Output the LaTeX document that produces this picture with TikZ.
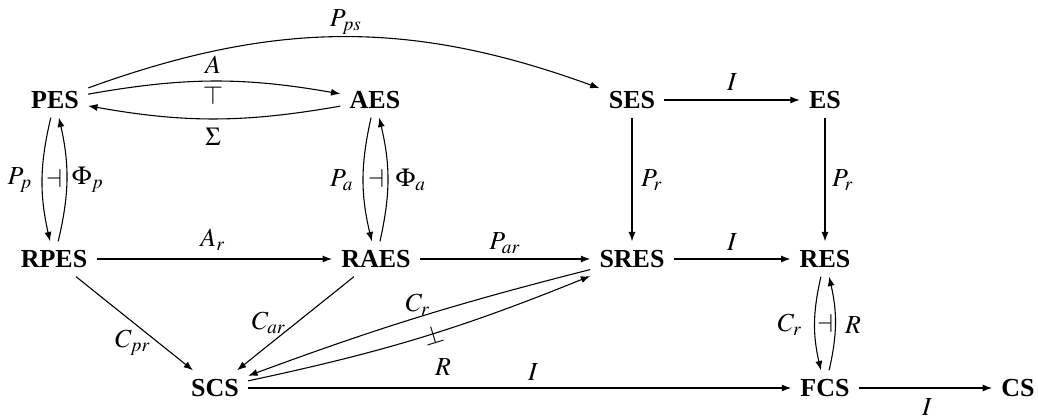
\documentclass[tikz,border=0pt]{standalone}
\usepackage{mathptmx}
\usepackage{fontspec}
\setmainfont{Liberation Serif}
\usetikzlibrary{arrows.meta}
\begin{document}
\begin{tikzpicture}[x=0.385pt,y=0.385pt,
  obj/.style={font=\bfseries, inner xsep=3.4pt, inner ysep=3.2pt, text height=0.68em, text depth=0pt},
  lab/.style={inner sep=0pt},
  arr/.style={-{Latex[length=3.6pt,width=2.7pt]}, line width=0.42pt},
]
\useasboundingbox (0,0) rectangle (1038,419);
% objects
\node[obj] (pes)  at (55,319)  {PES};
\node[obj] (aes)  at (375,319) {AES};
\node[obj] (ses)  at (632,319) {SES};
\node[obj] (es)   at (825,319) {ES};
\node[obj] (rpes) at (54,160)  {RPES};
\node[obj] (raes) at (376,160) {RAES};
\node[obj] (sres) at (632,160) {SRES};
\node[obj] (res)  at (825,160) {RES};
\node[obj] (scs)  at (215,31)  {SCS};
\node[obj] (fcs)  at (825,31)  {FCS};
\node[obj] (cs)   at (1018,31) {CS};
% arrows
\draw[arr] (pes) to[bend left=20] (ses);
\draw[arr] (pes) to[bend left=10] (aes);
\draw[arr] (aes) to[bend left=10] (pes);
\draw[arr] (ses) -- (es);
\draw[arr] (pes) to[bend right=13] (rpes);
\draw[arr] (rpes) to[bend right=13] (pes);
\draw[arr] (aes) to[bend right=13] (raes);
\draw[arr] (raes) to[bend right=13] (aes);
\draw[arr] (ses) -- (sres);
\draw[arr] (es) -- (res);
\draw[arr] (rpes) -- (raes);
\draw[arr] (raes) -- (sres);
\draw[arr] (sres) -- (res);
\draw[arr] (rpes) -- (scs);
\draw[arr] (raes) -- (scs);
\draw[arr] (sres) to[bend right=3] (scs);
\draw[arr] (scs) to[bend right=5] (sres);
\draw[arr] (scs) -- (fcs);
\draw[arr] (res) to[bend right=13] (fcs);
\draw[arr] (fcs) to[bend right=13] (res);
\draw[arr] (fcs) -- (cs);
% labels
\node[lab] (lPps)  at (346,397) {$P_{ps}$};
\node[lab] (lA)    at (213,354) {$A$};
\node[lab] (ltop)  at (213,324) {$\top$};
\node[lab] (lSig)  at (213,282) {$\Sigma$};
\node[lab] (lI1)   at (732,337) {$I$};
\node[lab] (lPp)   at (20,239)  {$P_p$};
\node[lab] (ld1)   at (54,241)  {$\dashv$};
\node[lab] (lPhip) at (88,239)  {$\Phi_p$};
\node[lab] (lPa)   at (342,239) {$P_a$};
\node[lab] (ld2)   at (376,241) {$\dashv$};
\node[lab] (lPhia) at (411,239) {$\Phi_a$};
\node[lab] (lPr1)  at (652,239) {$P_r$};
\node[lab] (lPr2)  at (843,239) {$P_r$};
\node[lab] (lAr)   at (213,179) {$A_r$};
\node[lab] (lPar)  at (505,176) {$P_{ar}$};
\node[lab] (lI2)   at (732,177) {$I$};
\node[lab] (lCpr)  at (133,76)  {$C_{pr}$};
\node[lab] (lCar)  at (269,96)  {$C_{ar}$};
\node[lab] (lCr1)  at (418,114) {$C_r$};
\node[lab,rotate=17] (lperp) at (433,84) {$\perp$};
\node[lab] (lR1)   at (443,52)  {$R$};
\node[lab] (lI3)   at (533,47)  {$I$};
\node[lab] (lCr2)  at (790,94)  {$C_r$};
\node[lab] (ld3)   at (825,96)  {$\dashv$};
\node[lab] (lR2)   at (853,94)  {$R$};
\node[lab] (lI4)   at (927,12)  {$I$};
\end{tikzpicture}
\end{document}
